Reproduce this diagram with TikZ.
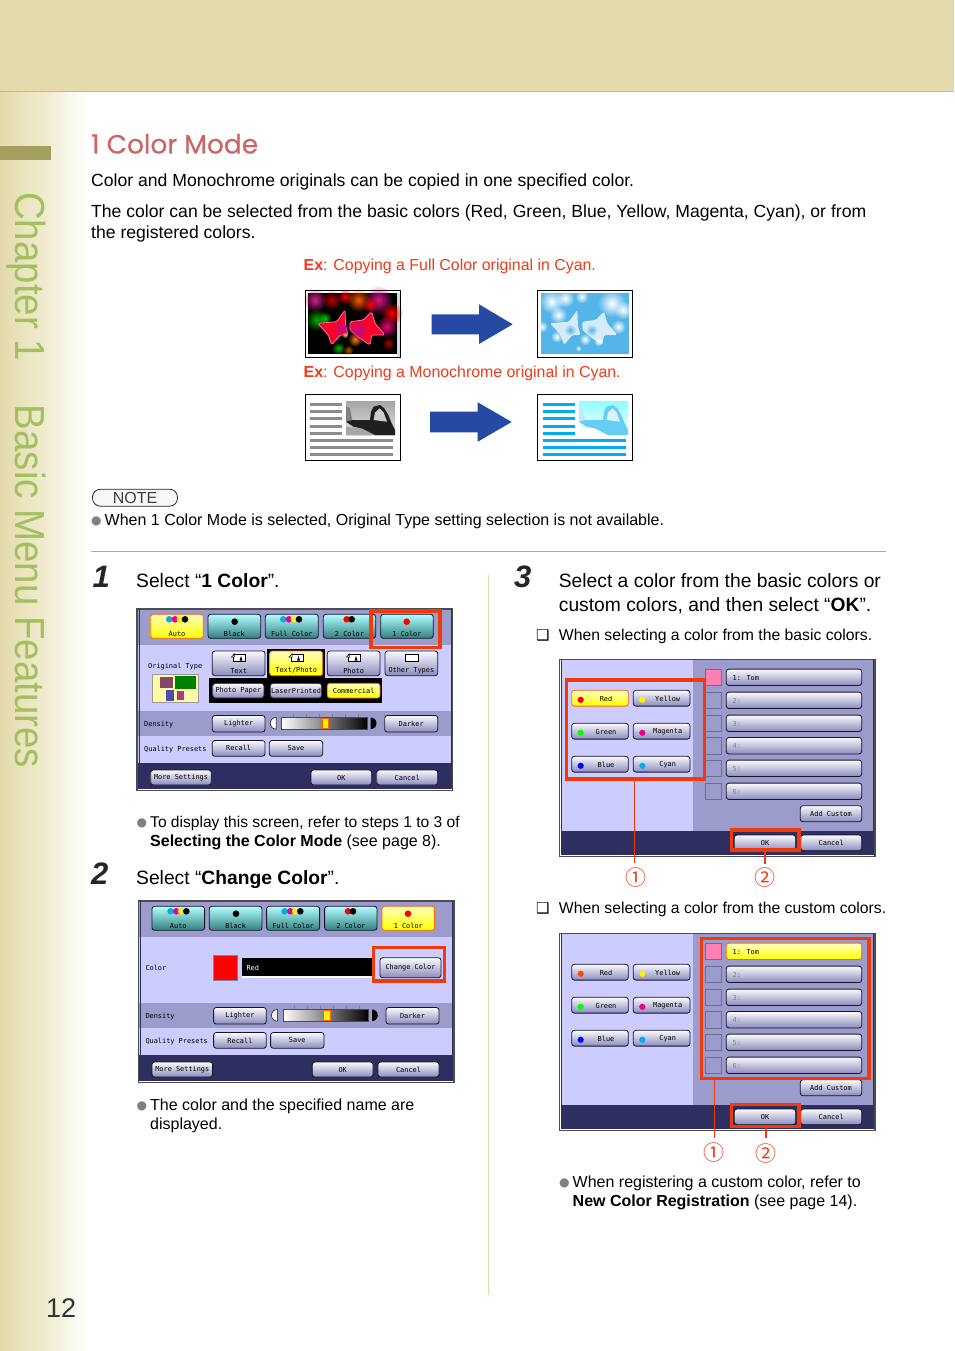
\documentclass[tikz,border=0pt]{standalone}
\usepackage{fontspec}
\usetikzlibrary{fadings}
\setmainfont{Liberation Sans}
\newfontfamily\scrfont{DejaVu Sans Mono}
\newfontfamily\dejavu{DejaVu Sans}
\newfontfamily\circfont{Noto Sans CJK JP}
\newfontfamily\titlefont[FakeBold=0.6]{Poppins}
\newfontfamily\chapfont[FakeStretch=0.915]{Liberation Sans}
\definecolor{band}{HTML}{E3DBAB}
\definecolor{bandline}{HTML}{CDBB7E}
\definecolor{bandmid}{HTML}{F0EBCF}
\definecolor{olive}{HTML}{A3A05F}
\definecolor{chapgreen}{HTML}{A3BF5E}
\definecolor{titlered}{HTML}{CC6666}
\definecolor{exred}{HTML}{EE3B1A}
\definecolor{boxred}{HTML}{F03A0C}
\definecolor{arrowblue}{HTML}{2649A3}
\definecolor{lightp}{HTML}{CCCCFF}
\definecolor{darkp}{HTML}{9B9BCC}
\definecolor{navy}{HTML}{2E2E60}
\definecolor{btnedge}{HTML}{15152B}
\definecolor{grayline}{HTML}{8C8C8C}
\definecolor{cyanline}{HTML}{00AEEF}
\definecolor{rulegray}{HTML}{A8A8A8}
\definecolor{tompink}{HTML}{FF80B4}
\definecolor{imgcyan}{HTML}{53B5E8}
\tikzset{
  txt/.style={anchor=base west,inner sep=0pt,font=\fontsize{17.6}{20}\selectfont,text=black},
  big/.style={txt,font=\fontsize{19.25}{24}\selectfont},
  small/.style={txt,font=\fontsize{16}{19}\selectfont},
  ex/.style={txt,font=\fontsize{15.9}{19}\selectfont,text=exred},
  num/.style={txt,font=\fontsize{31}{31}\selectfont\bfseries\itshape,text=black!85},
  dotb/.style={anchor=base west,inner sep=0pt,font=\dejavu\fontsize{12}{12}\selectfont,text=black!50},
  scrbase/.style={inner sep=0pt,font=\scrfont\fontsize{6.9}{7}\selectfont,text=black},
  btn/.style={scrbase,draw=btnedge,line width=.8pt,rounded corners=2.6pt,top color=white!92!lightp,bottom color=darkp!85!navy},
  tbtn/.style={btn,top color=cyan!30!white,bottom color=teal!60!gray},
  ybtn/.style={btn,draw=orange!80!red,top color=yellow!25!white,bottom color=yellow},
  scrlab/.style={scrbase,anchor=base west},
  redbox/.style={draw=boxred,line width=3.4pt,inner sep=0pt,fill=none},
  redline/.style={draw=boxred,line width=1pt},
  redlinethick/.style={draw=boxred,line width=2pt},
  circnum/.style={inner sep=0pt,font=\circfont\fontsize{21}{21}\selectfont,text=exred},
  doc/.style={draw=black,fill=white,line width=.5pt},
  blob/.style={path fading=fade out}
}
\tikzfading[name=fade out,inner color=transparent!0,outer color=transparent!100]
\newcommand\bt[7]{\node[#2,minimum width={(#5-#3)*1pt},minimum height={(#6-#4)*1pt}] (#1) at ({(#3+#5)/2},{(#4+#6)/2}) {#7};}
\newcommand\topbtn[7]{\bt{#1}{#2}{#3}{#4}{#5}{#6}{}\node[scrbase] (#1-t) at ({(#3+#5)/2},{#4+19.6}) {#7};}
% lower rows of the mode screens, in screen-1 coordinates
\newcommand\lowerrows[1]{%
  \node[scrlab] (#1-dl) at (144,726) {Density};
  \bt{#1-li}{btn}{212.3}{715.5}{265}{732}{Lighter}
  \fill[white,draw=black,line width=.5pt] (276,717.5) arc[start angle=-90,end angle=-270,radius=5.8] -- cycle;
  \fill[black] (370.7,717.5) arc[start angle=-90,end angle=90,radius=5.8] -- cycle;
  \foreach \tx in {293,306,319,332,345,358}{\draw[black!50,line width=.4pt] (\tx,713.5) -- (\tx,717);}
  \shade[left color=white,right color=black,middle color=black!50,draw=black!70,line width=.8pt] (281.7,717.5) rectangle (367.3,729);
  \fill[yellow,draw=orange!80!red,line width=.8pt] (322,718) rectangle (328.6,728.6);
  \bt{#1-da}{btn}{384.7}{715.5}{437.7}{732}{Darker}
  \node[scrlab] (#1-ql) at (144,751) {Quality Presets};
  \bt{#1-re}{btn}{212.3}{740.5}{265}{756.3}{Recall}
  \bt{#1-sa}{btn}{269.3}{740.5}{322.7}{756.3}{Save}
  \bt{#1-mo}{btn}{150.7}{770}{211.3}{785}{More Settings}
  \bt{#1-ok}{btn}{311}{770}{371.7}{785}{OK}
  \bt{#1-ca}{btn}{376.7}{770}{437.7}{785}{Cancel}
}
\newcommand\moderow[3]{%
  \topbtn{#1-au}{#2}{150.7}{614.3}{203.3}{638.3}{Auto}
  \topbtn{#1-bl}{tbtn}{208}{614.3}{260.7}{638.3}{Black}
  \topbtn{#1-fu}{tbtn}{265.3}{614.3}{318.3}{638.3}{Full Color}
  \topbtn{#1-tw}{tbtn}{323.3}{614.3}{375.7}{638.3}{2 Color}
  \topbtn{#1-on}{#3}{380.7}{614.3}{433.3}{638.3}{1 Color}
  \foreach \c/\dx in {cyan/0,magenta/5.7,yellow/10.7,black/15.7}{\fill[\c] (169.3+\dx,619.3) circle (3.3);\fill[\c] (283.3+\dx,619.3) circle (3.3);}
  \fill[black] (234.7,621.7) circle (3.3);
  \fill[red] (346.7,619.3) circle (3.3);
  \fill[black] (351.7,619.3) circle (3.3);
  \fill[red] (406.7,621.7) circle (3.3);
}
\newcommand\modeframe[1]{%
  \fill[darkp] (137,609) rectangle (452.5,645);
  \fill[lightp] (137,645) rectangle (452.5,#1);
  \fill[darkp] (137,#1) rectangle (452.5,736);
  \fill[lightp] (137,736) rectangle (452.5,763);
  \fill[navy] (137,763) rectangle (452.5,789);
  \draw[black!70,line width=1.2pt] (137,609) rectangle (452.7,790.5);
  \draw[navy,line width=1pt] (139,609) -- (139,789) (451,609) -- (451,789);
}
\newcommand\docicon[2]{\draw[doc] (#1-5,#2-5) rectangle (#1+7,#2+2.5);\draw[doc] (#1-7,#2-2) -- (#1-4,#2-5) -- (#1-4,#2-2) -- cycle;\fill[black] (#1+1,#2+1.5) -- (#1+2.5,#2-3) -- (#1+4,#2+1.5) -- cycle;}
% colour selection screen, in screen-3 coordinates
\newcommand\colorscreen[4]{%
  \fill[lightp] (561,660) rectangle (693.3,831);
  \fill[darkp] (693.3,660) rectangle (873,831);
  \fill[navy] (561,831) rectangle (873,855);
  \draw[black!70,line width=1.2pt] (559.7,659.5) rectangle (875,856.5);
  \draw[navy,line width=1pt] (561.5,659.5) -- (561.5,855) (873,659.5) -- (873,855);
  \foreach \nm/\sty/\a/\b/\c/\lab/\ly in {re/#2/571.7/628.3/#3/Red/690.3,ye/btn/633.3/690/yellow/Yellow/690.3,gr/btn/571.7/628.3/green/Green/723.3,ma/btn/633.3/690/magenta/Magenta/723.3,bl/btn/571.7/628.3/blue/Blue/756.3,cy/btn/633.3/690/cyan/Cyan/756.3}{
    \node[\sty,minimum width={(\b-\a)*1pt},minimum height=15.8pt] (#1-\nm) at ({(\a+\b)/2},{\ly+7.9}) {};
    \fill[\c] (\a+9,\ly+9.5) circle (3.1);
    \node[scrbase] (#1-\nm-t) at ({(\a+\b)/2+6},{\ly+8.6}) {\lab};
  }
  \foreach \yy/\lab/\tc/\sw/\ls/\i in {669.3/1: Tom/black/tompink/#4/1,692.3/2:/black!50/darkp/btn/2,715.3/3:/black!50/darkp/btn/3,737.7/4:/black!50/darkp/btn/4,760.3/5:/black!50/darkp/btn/5,783.3/6:/black!50/darkp/btn/6}{
    \node[draw=navy!70,line width=.7pt,minimum width=16.4pt,minimum height=16.4pt,inner sep=0pt,fill=\sw] (#1-sw\i) at (713.5,\yy+8) {};
    \node[\ls,minimum width=135.4pt,minimum height=16.4pt] (#1-li\i) at (794,\yy+8) {};
    \node[scrlab,text=\tc] (#1-lt\i) at (732.5,\yy+11) {\lab};
  }
  \bt{#1-add}{btn}{800.3}{805.7}{861.7}{821.7}{Add Custom}
  \bt{#1-ok}{btn}{734.3}{835}{795.7}{850.7}{OK}
  \bt{#1-ca}{btn}{800.7}{835}{861.7}{850.7}{Cancel}
}
\begin{document}
\begin{tikzpicture}[x=1pt,y=-1pt]
\useasboundingbox (0,0) rectangle (954,1351);
\fill[white] (0,0) rectangle (954,1351);
% page decoration
\shade[left color=band,right color=white,middle color=bandmid] (0,92) rectangle (88,1351);
\fill[band] (0,0) rectangle (954,91.5);
\draw[bandline,line width=1pt] (0,91.7) -- (954,91.7);
\fill[olive] (0,146) rectangle (51,160.5);
\node[anchor=base west,rotate=-90,inner sep=0pt,text=chapgreen,font=\chapfont\fontsize{42}{44}\selectfont] (chap) at (15,192) {Chapter 1\hspace{44pt}Basic Menu Features};
\node[txt,font=\fontsize{27}{28}\selectfont,text=black!80] (pageno) at (46,1317) {12};
% heading and intro
\node[txt,font=\titlefont\fontsize{26.4}{28}\selectfont,text=titlered] (title) at (91,153.5) {1 Color Mode};
\node[txt] (t1) at (91,186) {Color and Monochrome originals can be copied in one specified color.};
\node[txt] (t2) at (91,217) {The color can be selected from the basic colors (Red, Green, Blue, Yellow, Magenta, Cyan), or from};
\node[txt] (t3) at (91,238) {the registered colors.};
\node[ex] (ex1) at (303.5,270) {\textbf{Ex}: Copying a Full Color original in Cyan.};
\node[ex] (ex2) at (303.5,377) {\textbf{Ex}: Copying a Monochrome original in Cyan.};
% example images, in zoom coordinates
\begin{scope}[shift={(295,280)},scale=1/3]
  \fill[black] (40,40) rectangle (305,222);
  \fill[white!85!black] (305,40) rectangle (317,232);
  \foreach \x/\y/\r/\c in {60/60/36/magenta!85!black,110/60/30/red!75!black,150/50/24/red,190/60/36/orange!70!red,250/60/44/magenta!90!black,290/100/34/red,65/120/34/green!70!black,90/115/20/green!80!black,275/140/34/magenta!80!red,120/165/20/cyan!70!black,180/178/22/orange,130/205/20/green!70!black,160/210/16/orange!70!black,280/190/20/red!70!black,225/75/24/red}{\fill[\c,blob] (\x,\y) circle (\r);}
  \fill[red!85!magenta,draw=magenta!50!white,line width=.7pt,rounded corners=1.5pt] (68,130) -- (125,125) -- (150,90) -- (152,140) -- (160,165) -- (135,165) -- (110,195) -- (100,165) -- cycle;
  \fill[magenta!75!blue,blob] (140,145) circle (26);
  \fill[red!85!magenta,draw=magenta!50!white,line width=.7pt,rounded corners=1.5pt] (165,125) -- (205,120) -- (230,95) -- (240,130) -- (270,165) -- (230,165) -- (225,195) -- (195,175) -- (165,150) -- cycle;
  \fill[magenta!70!blue,blob] (190,150) circle (30);
  \fill[yellow!70!orange,blob] (150,165) circle (10);
  \draw[black,line width=1pt] (31,30.5) rectangle (316.5,232);
  \fill[imgcyan] (738,40) rectangle (1002,222);
  \foreach \x/\y/\r in {770/65/36,810/55/28,860/50/20,950/70/42,985/90/28,790/105/26,970/140/22,785/170/18,870/178/18,910/185/14,850/205/9,740/140/18}{\fill[white,blob] (\x,\y) circle (\r);}
  \fill[white,opacity=.75,rounded corners=1.5pt] (765,130) -- (822,125) -- (847,90) -- (849,140) -- (857,165) -- (832,165) -- (807,195) -- (797,165) -- cycle;
  \fill[white,opacity=.75,rounded corners=1.5pt] (862,125) -- (902,120) -- (927,95) -- (937,130) -- (967,165) -- (927,165) -- (922,195) -- (892,175) -- (862,150) -- cycle;
  \fill[imgcyan,blob] (825,150) circle (18);
  \fill[imgcyan,blob] (890,150) circle (18);
  \draw[black,line width=1pt] (727.5,30.5) rectangle (1013,232);
  % monochrome originals
  \foreach \dx/\lc/\skyt/\skyb/\hole/\mmid/\dk/\fr in {0/grayline/black!35/black!12/black!20/black!50/black!88/black!35,699/cyanline/cyan!45!white/white/cyan!15!white/cyan!25!white/cyan!60!white/white}{
    \begin{scope}[xshift=\dx]
    \foreach \yy in {373,394,416,438,460}{\fill[\lc] (45,\yy-4.5) rectangle (141,\yy+4.5);}
    \foreach \yy in {481,502,523}{\fill[\lc] (45,\yy-4.5) rectangle (294,\yy+4.5);}
    \shade[top color=\skyt,bottom color=\skyb] (153,363) rectangle (300,465);
    \fill[\mmid] (153,378) -- (165,385) -- (172,420) -- (153,425) -- cycle;
    \fill[\fr] (153,440) -- (200,445) -- (240,465) -- (153,465) -- cycle;
    \fill[\dk] (153,425) -- (172,420) -- (225,420) -- (228,395) -- (236,380) -- (255,375) -- (268,385) -- (280,405) -- (290,430) -- (300,450) -- (300,465) -- (240,465) -- (200,445) -- (175,440) -- cycle;
    \fill[\hole] (236,420) -- (240,398) -- (254,385) -- (266,398) -- (276,425) -- cycle;
    \end{scope}
  }
  \draw[black,line width=1pt] (31,343.5) rectangle (316.5,541);
  \draw[black,line width=1pt] (727.5,343.5) rectangle (1013,541);
\end{scope}
\fill[arrowblue] (431.7,314.3) -- (479,314.3) -- (479,304.3) -- (512.7,324.3) -- (479,344) -- (479,334.3) -- (431.7,334.3) -- cycle;
\fill[arrowblue] (430,411.7) -- (477.7,411.7) -- (477.7,402.3) -- (511.7,422) -- (477.7,441.7) -- (477.7,432.3) -- (430,432.3) -- cycle;
% note
\node[draw=black!85,line width=.8pt,rounded corners=8pt,minimum width=85pt,minimum height=17pt,inner sep=0pt,fill=black!3,font=\fontsize{16}{17}\selectfont,text=black!75] (note) at (135,497.7) {NOTE};
\node[dotb] (nb) at (91,524.5) {●};
\node[small] (nt) at (104.5,525) {When 1 Color Mode is selected, Original Type setting selection is not available.};
\draw[rulegray,line width=.8pt] (91,551.5) -- (886,551.5);
\draw[band,line width=1pt] (488.5,575) -- (488.5,1295);
% step 1
\node[num] (n1) at (92.5,587) {1};
\node[big] (s1) at (136,587.5) {Select “\textbf{1 Color}”.};
\modeframe{711}
\moderow{a}{ybtn}{tbtn}
\bt{a-backa}{draw=none,fill=black,inner sep=0pt}{267.3}{649.3}{325}{678.5}{}
\bt{a-backb}{draw=none,fill=black,inner sep=0pt}{209.3}{678}{382.3}{702.7}{}
\topbtn{a-tx}{btn}{212.3}{651}{265}{675.7}{Text}
\topbtn{a-tp}{ybtn}{269.7}{651}{322.7}{675.7}{Text/Photo}
\topbtn{a-ph}{btn}{327.3}{651}{380}{675.7}{Photo}
\topbtn{a-ot}{btn}{385}{651}{437.7}{675.7}{Other Types}
\docicon{238.5}{659}\docicon{296}{659}\docicon{353.5}{659}
\draw[doc] (405,654) rectangle (418,661.5);
\node[scrlab] (a-ol) at (148,668) {Original Type};
\fill[yellow!35!white,draw=black!40,line width=.4pt] (152.3,674) rectangle (197.7,702.3);
\fill[magenta!45!black] (160,677) rectangle (173,688);
\fill[green!50!black] (175,676) rectangle (196,689);
\fill[blue!40!gray] (166,690) rectangle (174,701);
\fill[magenta!70!black] (177,691) rectangle (184,700);
\bt{a-pp}{btn}{212.7}{683.3}{264}{698}{Photo Paper}
\bt{a-lp}{btn}{270.3}{683.3}{321.7}{698}{LaserPrinted}
\bt{a-co}{ybtn}{327.3}{683.3}{380}{698}{Commercial}
\lowerrows{a}
\bt{a-red}{redbox}{371}{611}{440}{647.6}{}
\node[dotb] (b1) at (136.5,826.5) {●};
\node[small,font=\fontsize{15.6}{19}\selectfont] (b1a) at (150,827) {To display this screen, refer to steps 1 to 3 of};
\node[small] (b1b) at (150,846) {\textbf{Selecting the Color Mode} (see page 8).};
% step 2
\node[num] (n2) at (91,884) {2};
\node[big] (s2) at (136,884) {Select “\textbf{Change Color}”.};
\begin{scope}[shift={(1.3,292)}]
\modeframe{711}
\moderow{b}{tbtn}{ybtn}
\fill[red,draw=navy!60,line width=.7pt] (212,663.3) rectangle (236.4,688.7);
\fill[white] (240.4,666.3) rectangle (370.4,685.7);
\fill[black] (240.4,666.3) rectangle (370.4,684);
\node[scrlab,text=white] (b-cv) at (245,678) {Red};
\node[scrlab] (b-cl) at (144,678) {Color};
\bt{b-cc}{btn}{378.7}{665.7}{439.7}{685.7}{Change Color}
\lowerrows{b}
\bt{b-red}{redbox}{372}{655.5}{443.2}{689}{}
\end{scope}
\node[dotb] (b2) at (136.5,1109.5) {●};
\node[small] (b2a) at (150,1110) {The color and the specified name are};
\node[small] (b2b) at (150,1129) {displayed.};
% step 3
\node[num] (n3) at (514,587) {3};
\node[big] (s3a) at (558.7,587.5) {Select a color from the basic colors or};
\node[big] (s3b) at (558.7,611.5) {custom colors, and then select “\textbf{OK}”.};
\node[dotb,text=black,font=\dejavu\fontsize{15}{15}\selectfont] (c1) at (536,640) {❑};
\node[small,font=\fontsize{15.75}{19}\selectfont] (c1t) at (558.7,640) {When selecting a color from the basic colors.};
\colorscreen{c}{ybtn}{red}{btn}
\bt{c-red1}{redbox}{566.7}{680}{704.3}{779}{}
\bt{c-red2}{redbox}{731.7}{830}{799}{850}{}
\coordinate (c-e1) at (634.3,862.7);
\coordinate (c-e2) at (765,863.5);
\draw[redline] (c-red1.south -| c-e1) -- (c-e1);
\draw[redlinethick] (c-red2.south -| c-e2) -- (c-e2);
\node[circnum] (c-n1) at (636,877.7) {①};
\node[circnum] (c-n2) at (765,878) {②};
\node[dotb,text=black,font=\dejavu\fontsize{15}{15}\selectfont] (c2) at (536,913) {❑};
\node[small,font=\fontsize{15.75}{19}\selectfont] (c2t) at (558.7,913) {When selecting a color from the custom colors.};
\begin{scope}[shift={(0,274)}]
\colorscreen{d}{btn}{orange!60!red}{ybtn}
\bt{d-red1}{redbox}{701.7}{664.4}{869}{804.3}{}
\bt{d-red2}{redbox}{731.7}{830.4}{799}{852.6}{}
\coordinate (d-e1) at (714.3,864);
\coordinate (d-e2) at (765.5,864);
\draw[redline] (d-red1.south -| d-e1) -- (d-e1);
\draw[redlinethick] (d-red2.south -| d-e2) -- (d-e2);
\node[circnum] (d-n1) at (714.3,878.3) {①};
\node[circnum] (d-n2) at (765.7,879.3) {②};
\end{scope}
\node[dotb] (b3) at (559,1186.5) {●};
\node[small] (b3a) at (572.5,1187) {When registering a custom color, refer to};
\node[small] (b3b) at (572.5,1206) {\textbf{New Color Registration} (see page 14).};
\end{tikzpicture}
\end{document}
